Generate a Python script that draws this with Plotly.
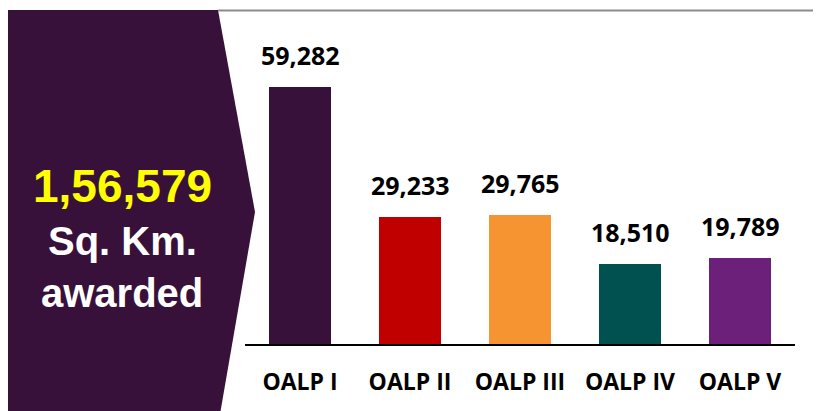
import plotly.graph_objects as go

W, H = 821, 411
OFF = 8  # margen del body del html

# datos
categorias = ["OALP I", "OALP II", "OALP III", "OALP IV", "OALP V"]
area_km2 = [59282, 29233, 29765, 18510, 19789]
colores = ["#38113A", "#C00000", "#F79432", "#00514F", "#6C2079"]
total_txt = "1,56,579"


def px_x(x):
    return (x - OFF) / W


def px_y(y):
    return 1 - (y - OFF) / H


fig = go.Figure(go.Bar(
    x=categorias,
    y=area_km2,
    marker=dict(color=colores, line=dict(width=0)),
    width=0.555,
    hoverinfo="skip",
))

# etiquetas de valor encima de cada barra
for cat, val in zip(categorias, area_km2):
    fig.add_annotation(
        x=cat, y=val, text=f"<b>{val:,}</b>", showarrow=False,
        yanchor="bottom", yshift=13,
        font=dict(family="Open Sans", size=25, color="#000000"),
    )

# bloque morado con forma de flecha a la izquierda
path = (f"M {px_x(7)},{px_y(10)} L {px_x(218)},{px_y(10)} "
        f"L {px_x(255)},{px_y(212)} L {px_x(219)},{px_y(420)} "
        f"L {px_x(7)},{px_y(420)} Z")
fig.add_shape(type="path", path=path, xref="paper", yref="paper",
              fillcolor="#38113A", line=dict(width=0), layer="below")
# línea gris superior
fig.add_shape(type="line", xref="paper", yref="paper",
              x0=px_x(218), x1=1, y0=px_y(10.5), y1=px_y(10.5),
              line=dict(color="#8C8C8C", width=2))

# textos del bloque
textos = [(total_txt, 186, 46, "#FFFF00"),
          ("Sq. Km.", 241, 40, "#FFFFFF"),
          ("awarded", 293, 40, "#FFFFFF")]
for txt, yy, sz, col in textos:
    fig.add_annotation(x=px_x(122), y=px_y(yy), xref="paper", yref="paper",
                       xanchor="center", yanchor="middle",
                       text=f"<b>{txt}</b>", showarrow=False,
                       font=dict(family="Liberation Sans", size=sz, color=col))

fig.update_layout(
    width=W, height=H,
    margin=dict(l=0, r=0, t=0, b=0),
    paper_bgcolor="white", plot_bgcolor="white",
    showlegend=False,
    bargap=0,
    xaxis=dict(
        domain=[px_x(245), px_x(795)],
        showline=True, linecolor="#000000", linewidth=1.5,
        ticks="", ticklabelstandoff=17,
        tickfont=dict(family="Open Sans", size=23, color="#000000"),
        tickvals=categorias,
        ticktext=[f"<b>{c}</b>" for c in categorias],
        fixedrange=True,
    ),
    yaxis=dict(
        domain=[px_y(344), 1],
        range=[0, 59282 * (344 - OFF) / 257],
        visible=False, showgrid=False, zeroline=False,
        fixedrange=True,
    ),
)

fig.write_html("out.html")
